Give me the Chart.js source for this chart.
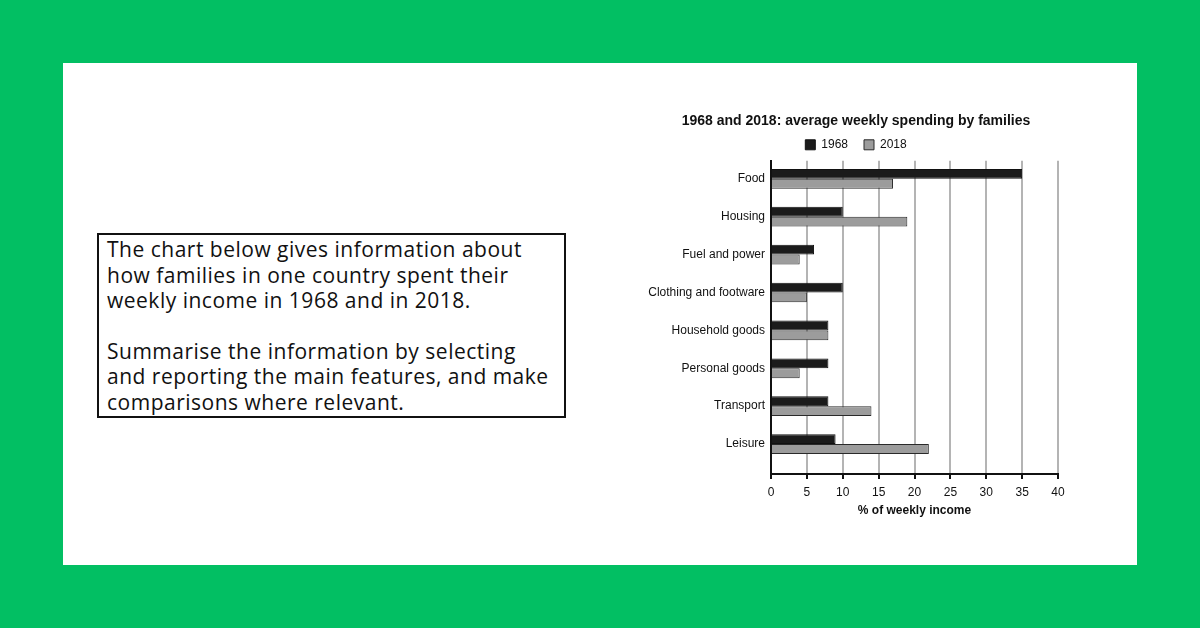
<!DOCTYPE html>
<html lang="en">
<head>
  <meta charset="UTF-8">
  <title>Weekly spending by families</title>
  <script src="https://cdn.jsdelivr.net/npm/chart.js"></script>
  <style>
    html, body { margin: 0; padding: 0; }
    body { width: 1200px; height: 628px; background: #02bf63; position: relative; overflow: hidden; }
    .panel { position: absolute; left: 63px; top: 63px; width: 1074px; height: 502px; background: #fff; }
    .task {
      position: absolute; left: 97px; top: 233px; width: 457px; height: 181px;
      border: 2px solid #111; font-family: "Open Sans", sans-serif; font-size: 21px;
      letter-spacing: 0.5px; line-height: 25.5px; color: #111; padding: 0 0 0 8px;
      box-sizing: content-box; white-space: nowrap;
    }
    .task p { margin: 2px 0 0 0; }
    .task p + p { margin-top: 25px; }
    .wrap { position: absolute; left: 645px; top: 100px; width: 422px; height: 425px; }
  </style>
</head>
<body>
  <div class="panel"></div>
  <div class="task">
    <p>The chart below gives information about<br>how families in one country spent their<br>weekly income in 1968 and in 2018.</p>
    <p>Summarise the information by selecting<br>and reporting the main features, and make<br>comparisons where relevant.</p>
  </div>
  <div class="wrap"><canvas id="grafico"></canvas></div>

<script>
  const categorias = ['Food', 'Housing', 'Fuel and power', 'Clothing and footware',
    'Household goods', 'Personal goods', 'Transport', 'Leisure'];
  const valores1968 = [35, 10, 6, 10, 8, 8, 8, 9];
  const valores2018 = [17, 19, 4, 5, 8, 4, 14, 22];
  const ticksX = [0, 5, 10, 15, 20, 25, 30, 35, 40];

  const fonte = 'Liberation Sans, Arial, sans-serif';

  // y linear (índice da categoria) p/ deixar o espaço vazio embaixo como no original
  const posicoes = categorias.map((c, i) => i);

  new Chart(document.getElementById('grafico'), {
    type: 'bar',
    data: {
      labels: posicoes,
      datasets: [{
        label: '1968',
        data: valores1968,
        backgroundColor: '#1b1b1b',
        borderColor: '#111',
        borderWidth: 1
      }, {
        label: '2018',
        data: valores2018,
        backgroundColor: '#9c9c9c',
        borderColor: '#2a2a2a',
        borderWidth: 1
      }]
    },
    options: {
      indexAxis: 'y',
      responsive: true,
      maintainAspectRatio: false,
      animation: false,
      categoryPercentage: 0.52,
      barPercentage: 1,
      layout: { padding: 0 },
      plugins: {
        title: {
          display: true,
          text: '1968 and 2018: average weekly spending by families',
          color: '#111',
          font: { family: fonte, size: 14, weight: 'bold' },
          padding: { top: 13, bottom: 3 }
        },
        legend: {
          display: true,
          labels: {
            color: '#111',
            font: { family: fonte, size: 12 },
            boxWidth: 10,
            boxHeight: 10,
            padding: 6,
            generateLabels: chart => {
              const itens = Chart.defaults.plugins.legend.labels.generateLabels(chart);
              itens[0].text += '   ';
              return itens;
            }
          }
        },
        tooltip: { enabled: false }
      },
      scales: {
        x: {
          min: 0,
          max: 40,
          afterBuildTicks: s => { s.ticks = ticksX.map(v => ({ value: v })); },
          afterFit: s => { s.height = 51; s.paddingRight = 9; },
          grid: { color: '#b4b4b4', lineWidth: 2, tickColor: '#111', tickLength: 5 },
          border: { display: true, color: '#111', width: 2 },
          ticks: { color: '#111', font: { family: fonte, size: 12 }, padding: 6 },
          title: {
            display: true,
            text: '% of weekly income',
            color: '#111',
            font: { family: fonte, size: 12, weight: 'bold' },
            padding: { top: 2, bottom: 7 }
          }
        },
        y: {
          type: 'linear',
          reverse: true,
          offset: false,
          min: -0.475,
          max: 7.79,
          afterBuildTicks: s => { s.ticks = posicoes.map(v => ({ value: v })); },
          afterFit: s => { s.width = 126; },
          grid: { display: false, drawTicks: false },
          border: { display: true, color: '#111', width: 2 },
          ticks: {
            color: '#111',
            font: { family: fonte, size: 12 },
            padding: 6,
            callback: v => categorias[v]
          }
        }
      }
    }
  });
</script>
</body>
</html>
